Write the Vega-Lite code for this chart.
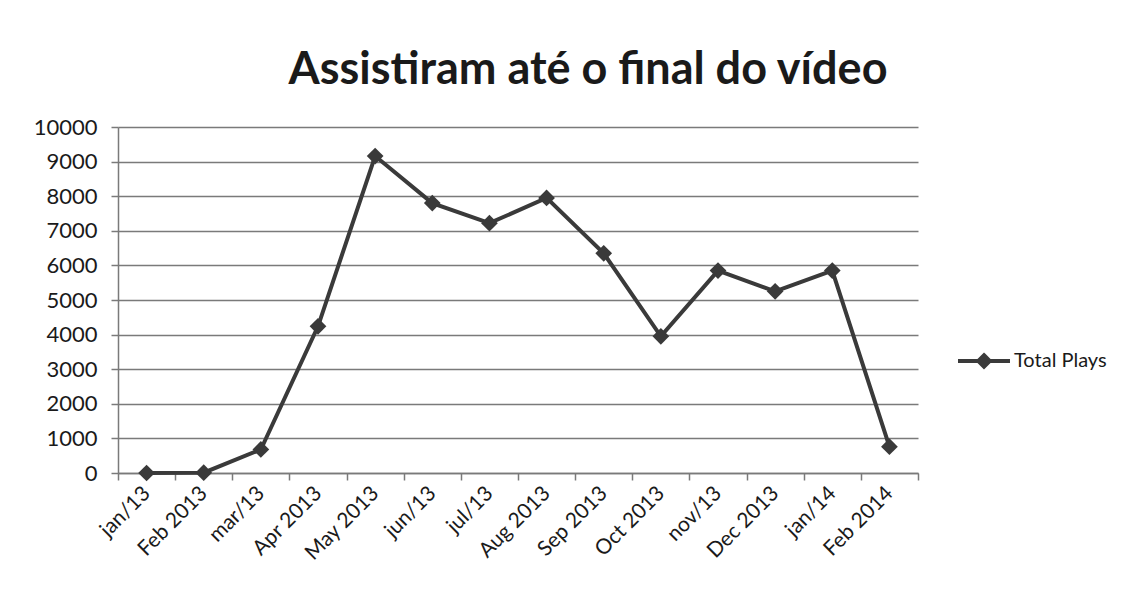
{
  "$schema": "https://vega.github.io/schema/vega-lite/v6.json",
  "width": 800,
  "height": 346,
  "autosize": {"type": "none"},
  "padding": {"left": 118, "top": 127, "right": 227, "bottom": 131},
  "background": "white",
  "config": {
    "font": "Lato",
    "view": {"stroke": null}
  },
  "title": {
    "text": "Assistiram até o final do vídeo",
    "font": "Lato",
    "fontSize": 45,
    "fontWeight": "bold",
    "color": "#1a1a1a",
    "anchor": "middle",
    "frame": "group",
    "dx": 70,
    "offset": 23
  },
  "data": {
    "values": [
      {"month": "jan/13", "plays": 0, "series": "Total Plays"},
      {"month": "Feb 2013", "plays": 10, "series": "Total Plays"},
      {"month": "mar/13", "plays": 680, "series": "Total Plays"},
      {"month": "Apr 2013", "plays": 4240, "series": "Total Plays"},
      {"month": "May 2013", "plays": 9160, "series": "Total Plays"},
      {"month": "jun/13", "plays": 7800, "series": "Total Plays"},
      {"month": "jul/13", "plays": 7220, "series": "Total Plays"},
      {"month": "Aug 2013", "plays": 7950, "series": "Total Plays"},
      {"month": "Sep 2013", "plays": 6350, "series": "Total Plays"},
      {"month": "Oct 2013", "plays": 3950, "series": "Total Plays"},
      {"month": "nov/13", "plays": 5850, "series": "Total Plays"},
      {"month": "Dec 2013", "plays": 5250, "series": "Total Plays"},
      {"month": "jan/14", "plays": 5850, "series": "Total Plays"},
      {"month": "Feb 2014", "plays": 760, "series": "Total Plays"}
    ]
  },
  "encoding": {
    "x": {
      "field": "month",
      "type": "nominal",
      "sort": null,
      "scale": {"type": "band", "paddingInner": 0, "paddingOuter": 0},
      "axis": {
        "title": null,
        "labelAngle": -45,
        "labelAlign": "right",
        "labelBaseline": "middle",
        "labelFontSize": 21,
        "labelColor": "#1a1a1a",
        "labelPadding": 10,
        "tickBand": "extent",
        "tickSize": 7,
        "tickColor": "#7a7a7a",
        "tickWidth": 1.5,
        "domainColor": "#7a7a7a",
        "domainWidth": 1.5,
        "grid": false
      }
    },
    "y": {
      "field": "plays",
      "type": "quantitative",
      "scale": {"domain": [0, 10000], "nice": false},
      "axis": {
        "title": null,
        "values": [0, 1000, 2000, 3000, 4000, 5000, 6000, 7000, 8000, 9000, 10000],
        "format": "d",
        "labelFontSize": 22,
        "labelColor": "#1a1a1a",
        "labelPadding": 14,
        "tickSize": 7,
        "tickColor": "#7a7a7a",
        "tickWidth": 1.5,
        "domainColor": "#7a7a7a",
        "domainWidth": 1.5,
        "grid": true,
        "gridColor": "#7a7a7a",
        "gridWidth": 1.5
      }
    },
    "color": {
      "field": "series",
      "type": "nominal",
      "scale": {"range": ["#3a3a3a"]},
      "legend": {
        "title": null,
        "orient": "none",
        "legendX": 838,
        "legendY": 206,
        "labelFontSize": 20,
        "labelColor": "#1a1a1a",
        "labelOffset": 2,
        "symbolType": "M-1,0H1M0,-0.22L0.22,0L0,0.22L-0.22,0Z",
        "symbolSize": 2700,
        "symbolStrokeWidth": 4,
        "symbolFillColor": "#3a3a3a"
      }
    }
  },
  "layer": [
    {"mark": {"type": "line", "strokeWidth": 4}},
    {"mark": {"type": "point", "shape": "diamond", "filled": true, "size": 280, "opacity": 1}}
  ]
}
